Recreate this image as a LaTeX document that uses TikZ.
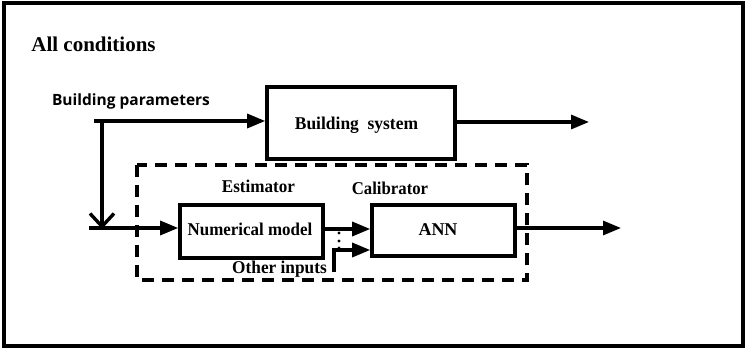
\documentclass[tikz,border=0pt]{standalone}
\usepackage{fontspec}
\setmainfont{Liberation Serif}
\newfontfamily\labsans{Open Sans}
\usetikzlibrary{arrows.meta}
\newcommand{\sqz}[2]{\scalebox{#1}[1]{#2}}
\begin{document}
\begin{tikzpicture}[x=1pt,y=-1pt,
  blk/.style={draw,line width=3.6pt,inner sep=0pt},
  lbl/.style={font=\fontsize{18}{18}\selectfont\bfseries,inner sep=0pt,anchor=base},
  conn/.style={line width=3.2pt,-{Triangle[length=18pt,width=14pt]}},
  plain/.style={line width=3.2pt}]
\useasboundingbox (0,0) rectangle (747,350);
\fill[white] (0,0) rectangle (747,350);
\draw[line width=3.2pt] (4,3) rectangle (743,346);
% texts
\node[font=\fontsize{21}{21}\selectfont\bfseries,inner sep=0pt,anchor=base] (allc) at (93.5,52) {All conditions};
\node[font=\labsans\fontsize{15.5}{16}\selectfont\bfseries,inner sep=0pt,anchor=base] (bpar) at (131,106) {Building parameters};
% dashed box
\draw[line width=3.2pt,dash pattern=on 12pt off 8pt] (137,165) rectangle (527,280);
% blocks
\node[blk,minimum width=188pt,minimum height=72pt] (bs) at (361,123) {};
\node[lbl] at (356.5,130) {\sqz{0.97}{Building\ \ system}};
\node[blk,minimum width=143pt,minimum height=53pt] (nm) at (251.5,231.5) {};
\node[lbl] at (250,235) {\sqz{0.94}{Numerical model}};
\node[blk,minimum width=143pt,minimum height=51pt] (ann) at (443.5,230.5) {};
\node[lbl] at (438,235) {ANN};
\node[lbl] (est) at (258.5,192) {\sqz{0.95}{Estimator}};
\node[lbl] (cal) at (390,194) {\sqz{0.93}{Calibrator}};
\node[lbl] (oth) at (279.5,273) {\sqz{0.96}{Other inputs}};
% coordinates
\coordinate (ts) at (94,121);
\coordinate (br) at (102,121);
\coordinate (ls) at (89,228);
\coordinate (lj) at (102,229);
\coordinate (bso) at (589,122);
\coordinate (anno) at (621,228);
\coordinate (ob) at (334,272);
% connectors
\draw[conn] (ts) -- (ts -| bs.west);
\draw[plain,-{Straight Barb[length=13pt,width=24pt,line width=3.4pt]}] (br) -- (lj);
\draw[conn] (ls) -- (ls -| nm.west);
\draw[conn] (bs.east |- bso) -- (bso);
\draw[conn] (ann.east |- anno) -- (anno);
\draw[conn] (nm.east |- 0,229) -- (ann.west |- 0,229);
\draw[conn] (ob) -- (334,250) -- (ann.west |- 0,250);
\foreach \yy in {233,241,248} \fill (339,\yy) circle (1.7pt);
\end{tikzpicture}
\end{document}
